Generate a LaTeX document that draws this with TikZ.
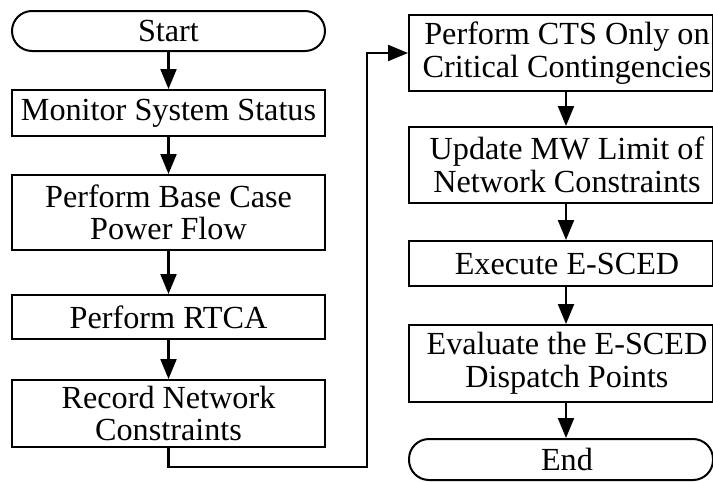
\documentclass[tikz,border=0pt]{standalone}
\usepackage{fontspec}
\setmainfont{Liberation Serif}
\usetikzlibrary{arrows.meta}
\newcommand\rtxt[1]{\hspace*{12pt}\parbox{292pt}{\centering #1}}
\begin{document}
\begin{tikzpicture}[x=1pt,y=-1pt,
  box/.style={draw, line width=2pt, rectangle, inner sep=0pt,
    font=\fontsize{32.2}{32.5}\selectfont},
  lbox/.style={box, align=center, minimum width=313pt},
  rbox/.style={box, anchor=west, minimum width=304pt},
  term/.style={rounded corners=20pt},
  arr/.style={line width=2.2pt, -{Triangle[length=20pt,width=16pt]}}]
\useasboundingbox (0,0) rectangle (713,482);
% left column
\node[lbox, term, minimum height=40pt] (start) at (168.5,31) {Start};
\node[lbox, minimum height=46pt] (mon) at (168.5,113) {Monitor System Status};
\node[lbox, minimum height=75pt] (base) at (168.5,212.5) {Perform Base Case\\Power Flow};
\node[lbox, minimum height=44pt] (rtca) at (168.5,317) {Perform RTCA};
\node[lbox, minimum height=67pt] (rec) at (168.5,413.5) {Record Network\\Constraints};
% right column
\node[rbox, minimum height=76pt] (cts) at (408,53) {\rtxt{Perform CTS Only on\\Critical Contingencies}};
\node[rbox, minimum height=76pt] (upd) at (408,165) {\rtxt{Update MW Limit of\\Network Constraints}};
\node[rbox, minimum height=45pt] (exe) at (408,263.5) {\rtxt{Execute E-SCED}};
\node[rbox, minimum height=77pt] (eva) at (408,363.5) {\rtxt{Evaluate the E-SCED\\Dispatch Points}};
\node[rbox, term, minimum height=41pt] (end) at (408,459.5) {\rtxt{End}};
% connectors
\draw[arr] (start.south) -- (mon.north);
\draw[arr] (mon.south) -- (base.north);
\draw[arr] (base.south) -- (rtca.north);
\draw[arr] (rtca.south) -- (rec.north);
\coordinate (c1) at (367,467);
\draw[arr] (rec.south) |- (c1) |- (cts.west);
\coordinate (ax) at (566,0);
\draw[arr] (cts.south -| ax) -- (upd.north -| ax);
\draw[arr] (upd.south -| ax) -- (exe.north -| ax);
\draw[arr] (exe.south -| ax) -- (eva.north -| ax);
\draw[arr] (eva.south -| ax) -- (end.north -| ax);
\end{tikzpicture}
\end{document}
